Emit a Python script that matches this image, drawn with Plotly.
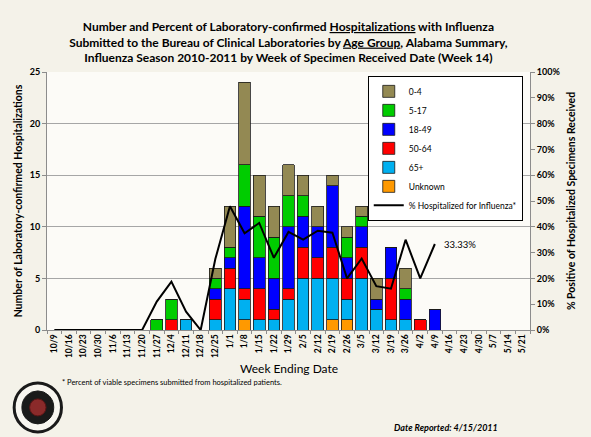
import plotly.graph_objects as go

WEEKS = ["10/9", "10/16", "10/23", "10/30", "11/6", "11/13", "11/20", "11/27",
         "12/4", "12/11", "12/18", "12/25", "1/1", "1/8", "1/15", "1/22", "1/29",
         "2/5", "2/12", "2/19", "2/26", "3/5", "3/12", "3/19", "3/26", "4/2",
         "4/9", "4/16", "4/23", "4/30", "5/7", "5/14", "5/21"]

# counts per week, 10/9 .. 5/21
AGE_0_4 = [0, 0, 0, 0, 0, 0, 0, 0, 0, 0, 0, 1, 4, 8, 4, 3, 3,
           2, 2, 1, 1, 1, 2, 0, 2, 0, 0, 0, 0, 0, 0, 0, 0]
AGE_5_17 = [0, 0, 0, 0, 0, 0, 0, 1, 2, 0, 0, 1, 1, 4, 4, 4, 3,
            2, 0, 0, 2, 1, 0, 0, 1, 0, 0, 0, 0, 0, 0, 0, 0]
AGE_18_49 = [0, 0, 0, 0, 0, 0, 0, 0, 0, 0, 0, 1, 1, 8, 3, 3, 6,
             3, 3, 6, 2, 2, 1, 3, 2, 0, 2, 0, 0, 0, 0, 0, 0]
AGE_50_64 = [0, 0, 0, 0, 0, 0, 0, 0, 1, 0, 0, 2, 2, 1, 3, 1, 1,
             3, 2, 3, 2, 3, 0, 4, 0, 1, 0, 0, 0, 0, 0, 0, 0]
AGE_65 = [0, 0, 0, 0, 0, 0, 0, 0, 0, 1, 0, 1, 4, 2, 1, 1, 3,
          5, 5, 4, 2, 5, 2, 1, 1, 0, 0, 0, 0, 0, 0, 0, 0]
AGE_UNK = [0, 0, 0, 0, 0, 0, 0, 0, 0, 0, 0, 0, 0, 1, 0, 0, 0,
           0, 0, 1, 1, 0, 0, 0, 0, 0, 0, 0, 0, 0, 0, 0, 0]

# % hospitalized for influenza (right axis)
PCT_HOSP = [0, 0, 0, 0, 0, 0, 0, 11, 18.75, 7.1, 0, 27.5, 48, 37.5, 41.5, 28, 38,
            35, 38.5, 37.7, 20, 27.7, 17, 16, 35, 20, 33.33,
            None, None, None, None, None, None]

FONT = "Lato"

# stacked bottom-up; legendrank puts 0-4 on top of the legend
series = [
    ("Unknown", AGE_UNK, "#ff9900", 6),
    ("65+", AGE_65, "#00b0f0", 5),
    ("50-64", AGE_50_64, "#ff0000", 4),
    ("18-49", AGE_18_49, "#0000ff", 3),
    ("5-17", AGE_5_17, "#00cc00", 2),
    ("0-4", AGE_0_4, "#938953", 1),
]

fig = go.Figure()
for name, vals, color, rank in series:
    fig.add_trace(go.Bar(
        x=WEEKS, y=vals, name=name, legendrank=rank,
        marker=dict(color=color, line=dict(color="#1a1a1a", width=0.8)),
    ))

fig.add_trace(go.Scatter(
    x=WEEKS, y=PCT_HOSP, name="% Hospitalized for Influenza*", yaxis="y2",
    mode="lines", line=dict(color="black", width=2), legendrank=7,
))

fig.update_layout(
    width=591, height=437,
    margin=dict(l=47, r=61, t=72, b=107),
    barmode="stack", bargap=0.2,
    paper_bgcolor="#f4f2e9", plot_bgcolor="#fcfbf7",
    font=dict(family=FONT, color="black"),
    showlegend=True,
    title=dict(
        text="<b>Number and Percent of Laboratory-confirmed <u>Hospitalizations</u> with Influenza<br>"
             "Submitted to the Bureau of Clinical Laboratories by <u>Age Group</u>, Alabama Summary,<br>"
             "Influenza Season 2010-2011 by Week of Specimen Received Date (Week 14)</b>",
        x=0.488, xanchor="center", y=1 - 31 / 437, yanchor="top",
        font=dict(family=FONT, size=12, color="black"),
    ),
    legend=dict(
        x=0.985, y=0.985, xanchor="right", yanchor="top",
        bgcolor="white", bordercolor="black", borderwidth=1,
        font=dict(family=FONT, size=8.5, color="black"),
        traceorder="normal",
    ),
    xaxis=dict(
        type="category", tickangle=-90, showgrid=False,
        tickfont=dict(family=FONT, size=8.5, color="black", weight="bold"),
        showline=True, linecolor="#8c8c8c", linewidth=1,
        ticks="outside", ticklen=3, tickcolor="#8c8c8c", tickson="boundaries",
    ),
    yaxis=dict(
        range=[0, 25], dtick=5, showgrid=True, gridcolor="#a6a6a6", gridwidth=1,
        zeroline=False, showline=True, linecolor="#8c8c8c", linewidth=1,
        ticks="outside", ticklen=4, tickcolor="#8c8c8c",
        tickfont=dict(family=FONT, size=9, color="black", weight="bold"),
        title=dict(text="<b>Number of Laboratory-confirmed Hospitalizations</b>",
                   font=dict(family=FONT, size=10.5, color="black"), standoff=5),
    ),
    yaxis2=dict(
        overlaying="y", side="right", range=[0, 100], dtick=10,
        ticksuffix="%", showgrid=False, zeroline=False,
        showline=True, linecolor="#8c8c8c", linewidth=1,
        ticks="outside", ticklen=4, tickcolor="#8c8c8c",
        tickfont=dict(family=FONT, size=9, color="black", weight="bold"),
        title=dict(text="<b>% Positive of Hospitalized Specimens Received</b>",
                   font=dict(family=FONT, size=10.5, color="black"), standoff=8),
    ),
)

fig.add_annotation(x=WEEKS[26], y=PCT_HOSP[26], yref="y2", text="33.33%",
                   showarrow=False, xanchor="left", yanchor="middle", xshift=7,
                   font=dict(family=FONT, size=9.5, color="black"))

fig.add_annotation(x=0.5, y=-0.151, xref="paper", yref="paper",
                   xanchor="center", yanchor="middle",
                   text="Week Ending Date", showarrow=False,
                   font=dict(family=FONT, size=12, color="black"))
fig.add_annotation(x=0.027, y=-0.205, xref="paper", yref="paper",
                   xanchor="left", yanchor="middle",
                   text="* Percent of viable specimens submitted from hospitalized patients.",
                   showarrow=False, font=dict(family=FONT, size=7.5, color="black"))
fig.add_annotation(x=0.938, y=-0.379, xref="paper", yref="paper",
                   xanchor="right", yanchor="middle",
                   text="<b><i>Date Reported: 4/15/2011</i></b>",
                   showarrow=False, font=dict(family=FONT, size=9, color="black"))

# seal placeholder in the bottom-left corner
fig.add_shape(type="circle", xref="paper", yref="paper",
              x0=-0.068, x1=0.03, y0=-0.395, y1=-0.205,
              line=dict(color="#1a1a1a", width=3), fillcolor="#f8f6f0")
fig.add_shape(type="circle", xref="paper", yref="paper",
              x0=-0.052, x1=0.014, y0=-0.364, y1=-0.236,
              line=dict(color="#1a1a1a", width=1), fillcolor="#1a1a1a")
fig.add_shape(type="circle", xref="paper", yref="paper",
              x0=-0.036, x1=-0.002, y0=-0.333, y1=-0.267,
              line=dict(color="#5a1515", width=1), fillcolor="#8a2a2a")

# plotly's page keeps the browser's default 8px body margin; drop it
fig.write_html("out.html", config={"displayModeBar": False},
               post_script="document.body.style.margin='0px';")
